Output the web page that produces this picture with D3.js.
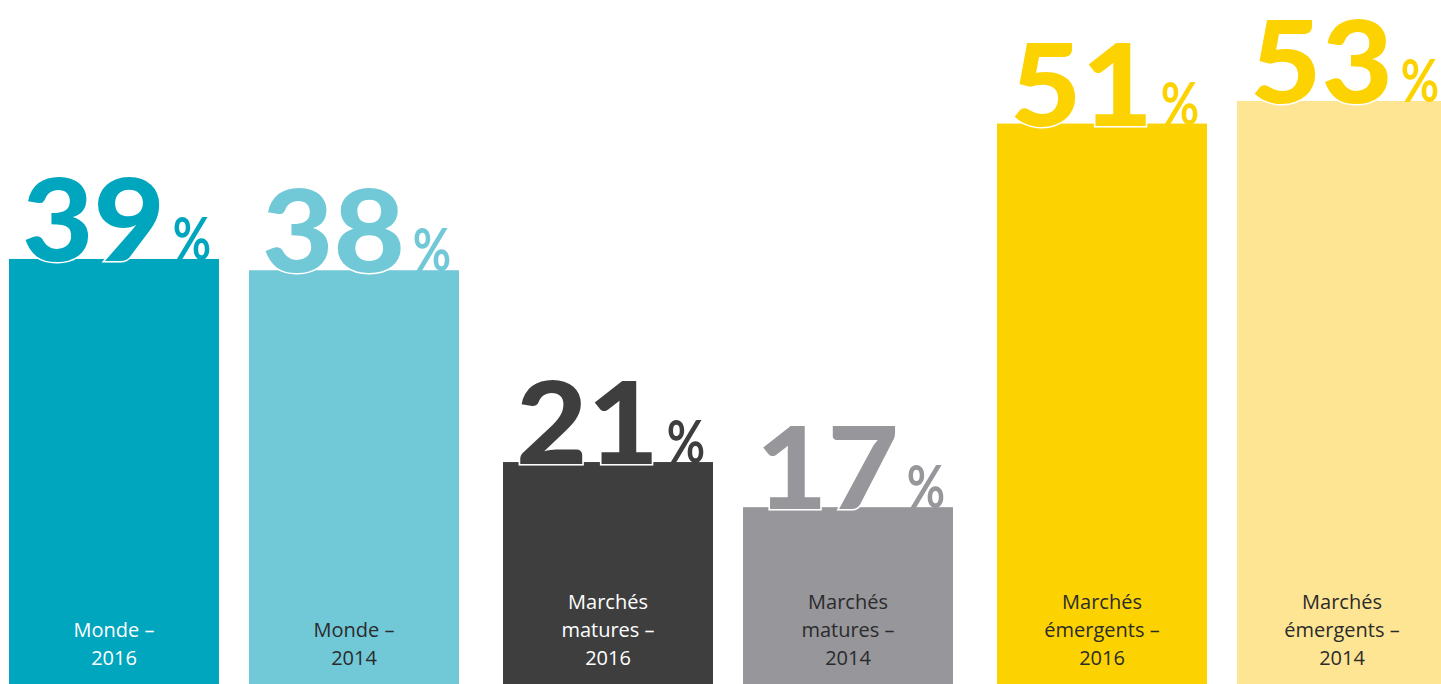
<!DOCTYPE html>
<html>
<head>
<meta charset="utf-8">
<script src="https://cdn.jsdelivr.net/npm/d3@7"></script>
<style>
  body { margin: 0; background: #fff; overflow: hidden; }
</style>
</head>
<body>
<div id="chart"></div>
<script>
// share of respondents, by market group and survey year
const groups = ["Monde", "Marchés matures", "Marchés émergents"];
const years = ["2016", "2014"];
const values = [39, 38, 21, 17, 51, 53];
const labels = [
  ["Monde –", "2016"],
  ["Monde –", "2014"],
  ["Marchés", "matures –", "2016"],
  ["Marchés", "matures –", "2014"],
  ["Marchés", "émergents –", "2016"],
  ["Marchés", "émergents –", "2014"]
];
const barColors = ["#00a5be", "#71c9d8", "#3e3e3e", "#96969b", "#fcd300", "#fee593"];
const numberColors = ["#00a5be", "#71c9d8", "#3e3e3e", "#96969b", "#fcd300", "#fcd300"];
const labelColors = ["#ffffff", "#2b2b2b", "#ffffff", "#2b2b2b", "#2b2b2b", "#2b2b2b"];

const width = 1441, height = 684;

const data = values.map((v, i) => ({
  group: groups[Math.floor(i / 2)],
  year: years[i % 2],
  value: v,
  label: labels[i],
  bar: barColors[i],
  num: numberColors[i],
  txt: labelColors[i]
}));

const svg = d3.select("#chart")
  .append("svg")
  .attr("width", width)
  .attr("height", height);

// Scales (zero sits a little below the page bottom)
const x0 = d3.scaleBand()
  .domain(groups)
  .range([9, 1447])
  .paddingInner(44 / 494)
  .paddingOuter(0);

const x1 = d3.scaleBand()
  .domain(years)
  .range([0, x0.bandwidth()])
  .paddingInner(0.125)
  .paddingOuter(0);

const y = d3.scaleLinear()
  .domain([0, 53])
  .range([699, 101]);

const bx = d => x0(d.group) + x1(d.year);

// Bars
svg.selectAll("rect.bar")
  .data(data)
  .join("rect")
  .attr("class", "bar")
  .attr("x", bx)
  .attr("y", d => y(d.value))
  .attr("width", x1.bandwidth())
  .attr("height", d => height - y(d.value))
  .attr("fill", d => d.bar);

// Big numbers, outlined in white where they sit on the bar
svg.selectAll("text.num")
  .data(data)
  .join("text")
  .attr("class", "num")
  .attr("transform", d => `translate(${bx(d) + 13}, ${y(d.value) + 2}) scale(1.08, 1)`)
  .attr("fill", d => d.num)
  .attr("stroke", "#fff")
  .attr("stroke-width", 3)
  .style("paint-order", "stroke")
  .style("font-family", "Lato, 'Open Sans', sans-serif")
  .style("font-weight", 900)
  .style("font-size", "114px")
  .text(d => d.value);

// Percent signs
svg.selectAll("text.pct")
  .data(data)
  .join("text")
  .attr("class", "pct")
  .attr("transform", d => `translate(${bx(d) + x1.bandwidth() - 8}, ${y(d.value) + 1}) scale(0.78, 1)`)
  .attr("text-anchor", "end")
  .attr("fill", d => d.num)
  .style("font-family", "Lato, 'Open Sans', sans-serif")
  .style("font-weight", 700)
  .style("font-size", "60px")
  .text("%");

// Category labels, bottom aligned
const lineH = 28;
svg.selectAll("text.lbl")
  .data(data)
  .join("text")
  .attr("class", "lbl")
  .attr("text-anchor", "middle")
  .attr("fill", d => d.txt)
  .style("font-family", "'Open Sans', 'Noto Sans', sans-serif")
  .style("font-size", "20px")
  .each(function(d) {
    const n = d.label.length;
    d3.select(this).selectAll("tspan")
      .data(d.label)
      .join("tspan")
      .attr("x", bx(d) + x1.bandwidth() / 2)
      .attr("y", (t, j) => 665 - (n - 1 - j) * lineH)
      .text(t => t);
  });
</script>
</body>
</html>
